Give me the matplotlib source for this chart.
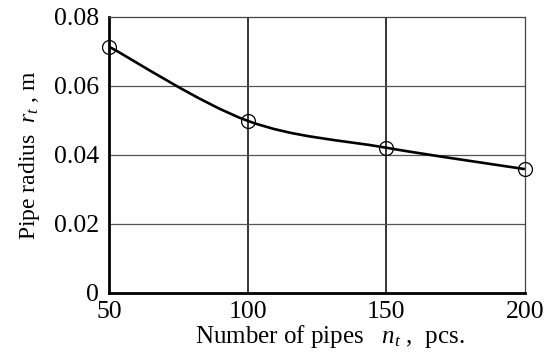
import matplotlib
matplotlib.use("Agg")
import matplotlib.pyplot as plt
import numpy as np
from matplotlib.path import Path
from matplotlib.patches import PathPatch

plt.rcParams['font.family'] = ['Liberation Serif', 'DejaVu Serif']
plt.rcParams['mathtext.fontset'] = 'custom'
plt.rcParams['mathtext.rm'] = 'Liberation Serif'
plt.rcParams['mathtext.it'] = 'Liberation Serif:italic'

n_pipes = [50, 100, 150, 200]
radius = [0.0714, 0.0499, 0.0421, 0.0359]
xticks = [50, 100, 150, 200]
yticks = [0, 0.02, 0.04, 0.06, 0.08]
yticklabels = ['0', '0.02', '0.04', '0.06', '0.08']

fig = plt.figure(figsize=(5.49, 3.53), dpi=100)
ax = fig.add_axes([0.1985, 0.170, 0.7575, 0.782])

# smooth curve through the points (Catmull-Rom as cubic Bezier segments)
x = np.array(n_pipes, dtype=float)
y = np.array(radius)
verts = [(x[0], y[0])]
codes = [Path.MOVETO]
for i in range(len(x) - 1):
    i0 = max(i - 1, 0)
    i3 = min(i + 2, len(x) - 1)
    c1 = (x[i] + (x[i + 1] - x[i0]) / 6, y[i] + (y[i + 1] - y[i0]) / 6)
    c2 = (x[i + 1] - (x[i3] - x[i]) / 6, y[i + 1] - (y[i3] - y[i]) / 6)
    verts += [c1, c2, (x[i + 1], y[i + 1])]
    codes += [Path.CURVE4] * 3
ax.add_patch(PathPatch(Path(verts, codes), facecolor='none', edgecolor='black', lw=1.9, zorder=3))

ax.plot(n_pipes, radius, linestyle='none', marker='o', markersize=10,
        markerfacecolor='none', markeredgecolor='black', markeredgewidth=0.9, zorder=4, clip_on=False)

ax.set_xlim(50, 200)
ax.set_ylim(0, 0.08)
ax.set_xticks(xticks)
ax.set_yticks(yticks)
ax.set_yticklabels(yticklabels)
ax.tick_params(length=0, labelsize=18.5)
ax.tick_params(axis='y', pad=7)
ax.tick_params(axis='x', pad=6)

for v in [100, 150]:
    ax.axvline(v, color='black', lw=1.1, zorder=1)
for v in [0.02, 0.04, 0.06]:
    ax.axhline(v, color='#555555', lw=0.9, zorder=1)

ax.spines['left'].set_linewidth(2.0)
ax.spines['bottom'].set_linewidth(2.0)
ax.spines['top'].set_linewidth(0.9)
ax.spines['right'].set_linewidth(0.9)
ax.spines['top'].set_color('#444444')
ax.spines['right'].set_color('#444444')

ax.set_ylabel('Pipe radius  $r_t$ , m', fontsize=17, labelpad=9)
ax.set_xlabel('Number of pipes   $n_t$ ,  pcs.', fontsize=18, labelpad=0)
ax.xaxis.label.set_x(0.53)

plt.savefig('out.png', dpi=100)
